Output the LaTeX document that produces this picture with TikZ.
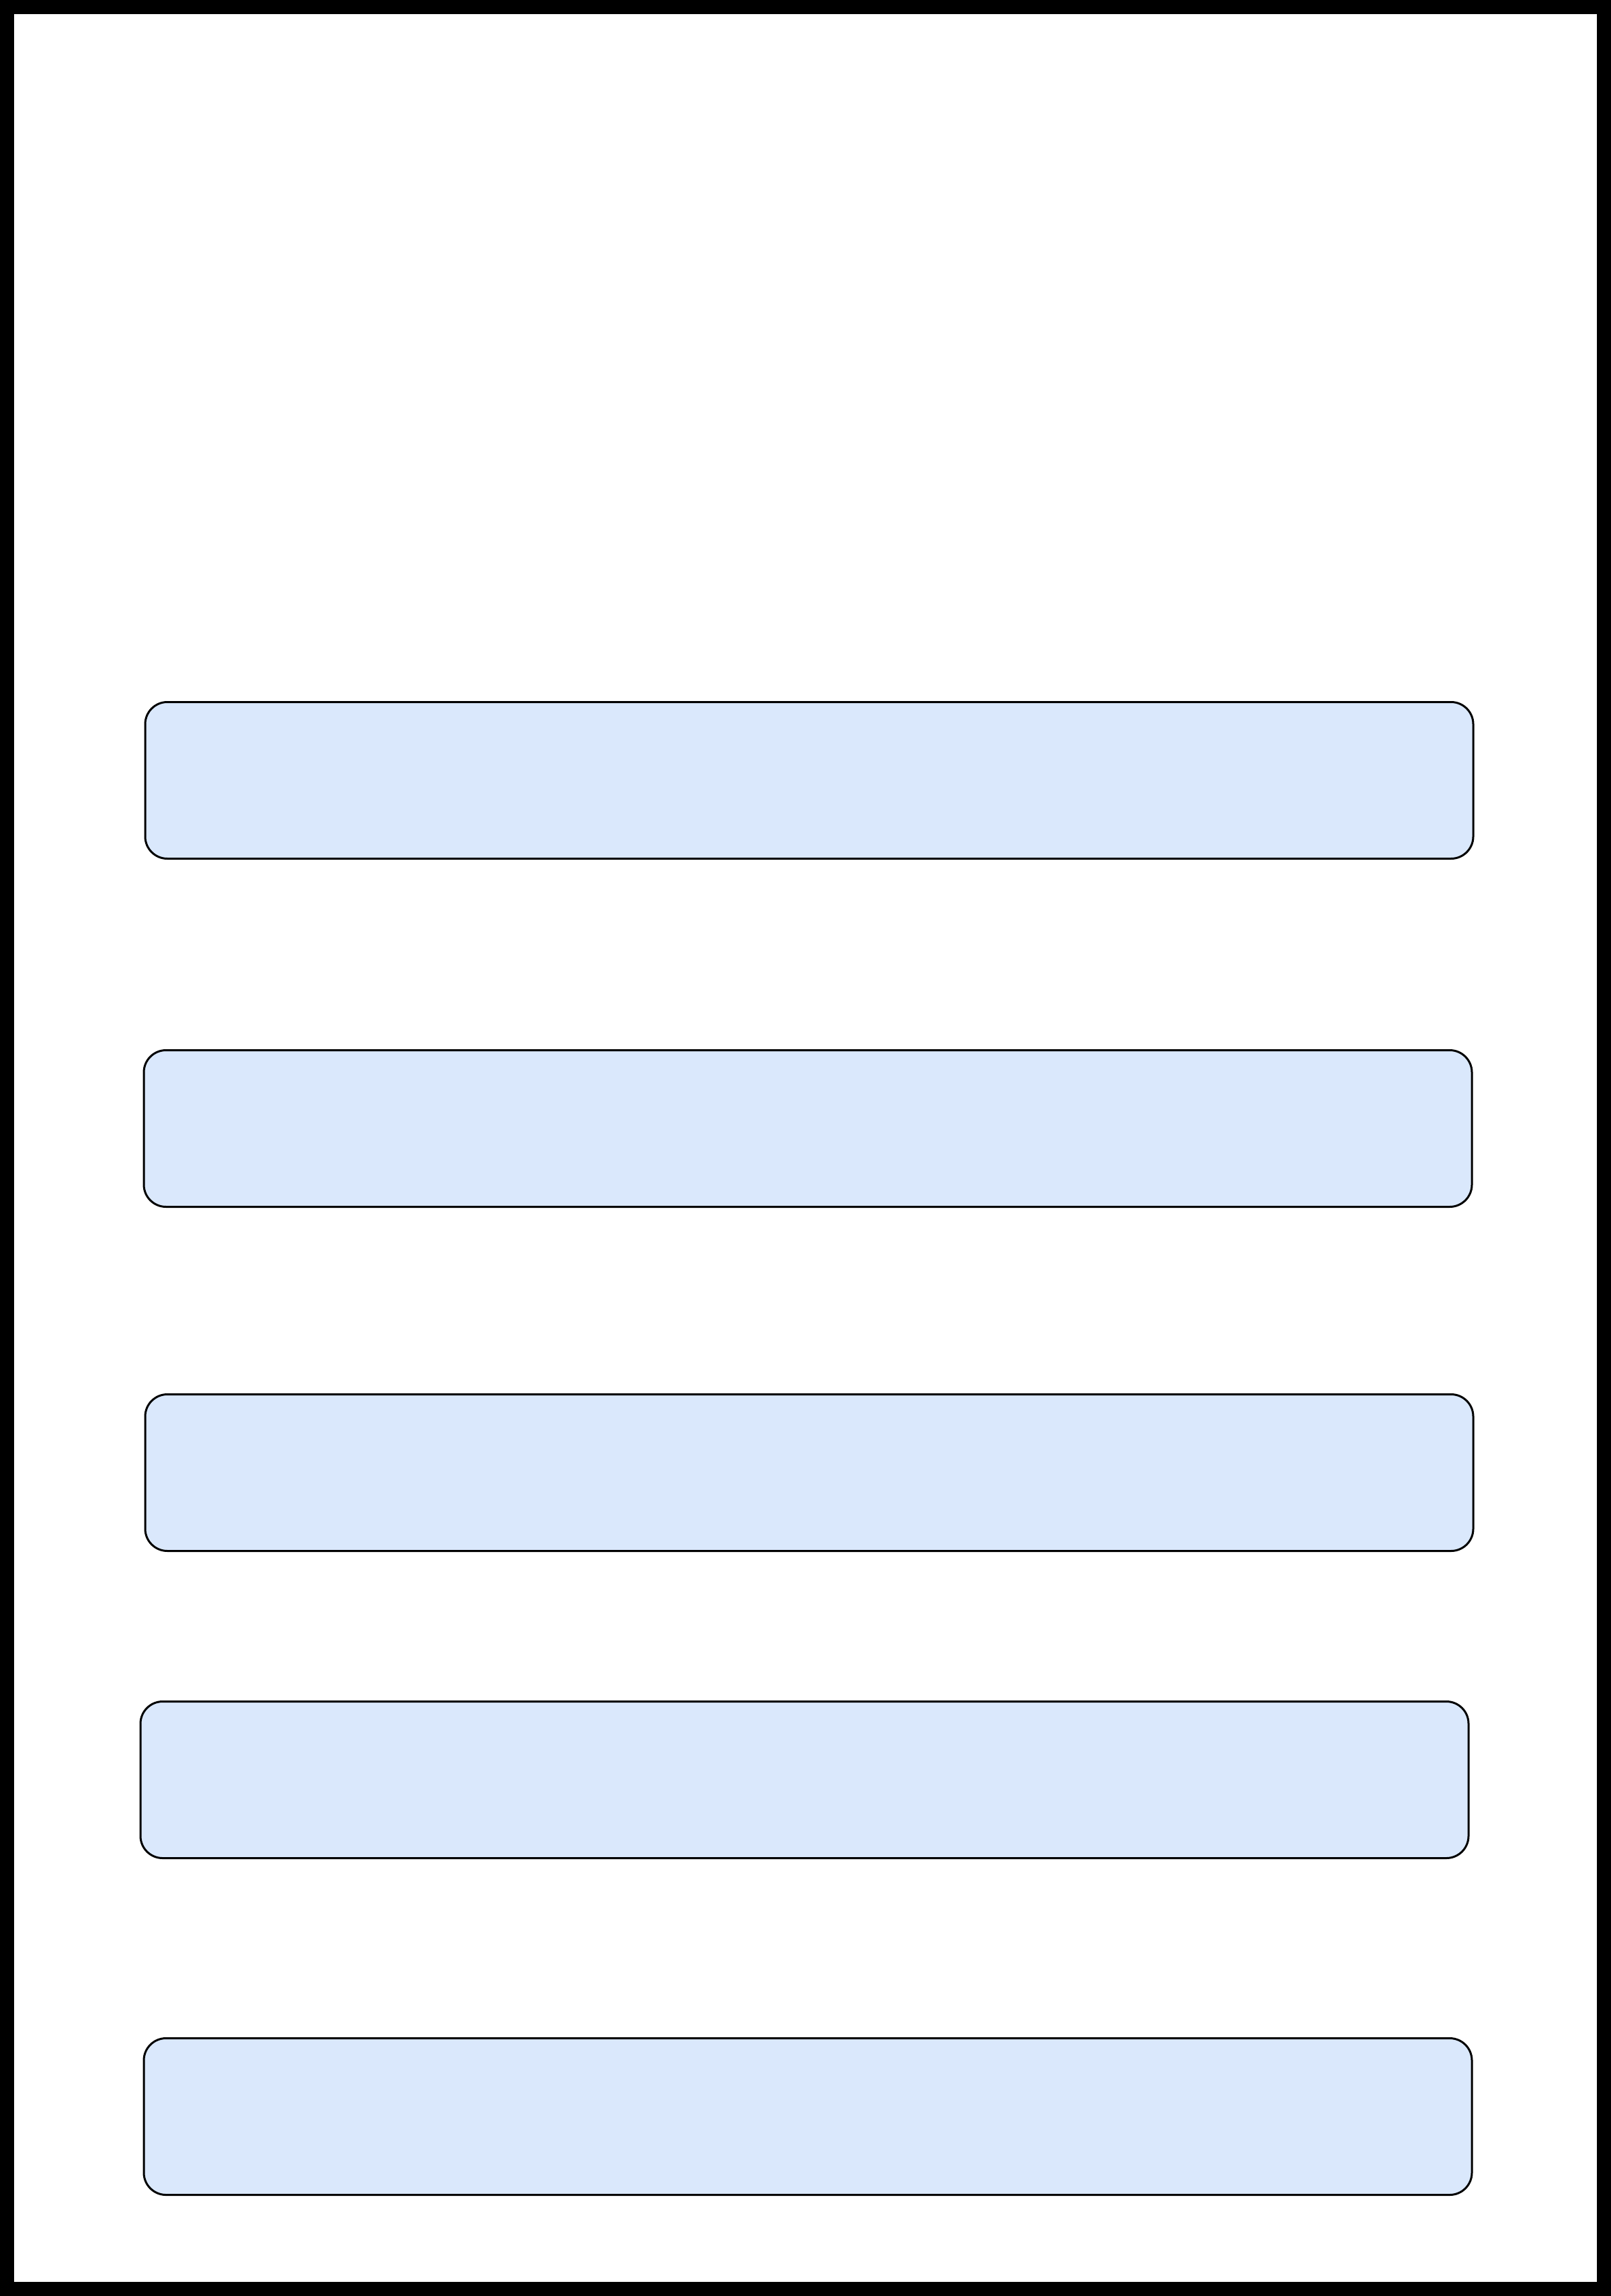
\documentclass[tikz,border=0pt]{standalone}
\usepackage{tikz}

\definecolor{boxblue}{HTML}{DAE8FC}

\tikzset{
  stagebox/.style={draw, fill=boxblue, line width=0.03cm, rounded corners=0.33cm,
    inner sep=0pt, minimum width=19.76cm, minimum height=2.33cm}
}

\begin{document}
\begin{tikzpicture}
    \useasboundingbox (0, 0) rectangle (23.97, -34.16);
    \draw [line width=0.21cm] (0.105, -0.105) rectangle (23.865, -34.055);

    \node [stagebox] (box1) at (12.04, -11.61) {};
    \node [stagebox] (box2) at (12.02, -16.79) {};
    \node [stagebox] (box3) at (12.04, -21.91) {};
    \node [stagebox] (box4) at (11.97, -26.48) {};
    \node [stagebox] (box5) at (12.02, -31.49) {};
  \end{tikzpicture}
\end{document}
